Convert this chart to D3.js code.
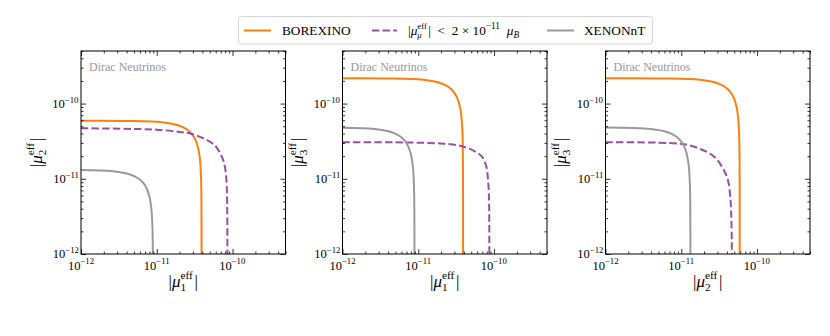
<!DOCTYPE html>
<html>
<head>
<meta charset="utf-8">
<script src="https://cdn.jsdelivr.net/npm/d3@7"></script>
<style>
  body { margin: 0; background: #fff; }
  svg text { white-space: pre; }
</style>
</head>
<body>
<svg id="chart" width="830" height="336" font-family="'Liberation Serif', 'DejaVu Serif', serif"></svg>
<script>
// axis range and labelled decades (same for every panel)
const axisDomain = [1e-12, 5e-10];
const majorTicks = [1e-12, 1e-11, 1e-10];
const tickExponents = ['\u221212', '\u221211', '\u221210'];

// which |mu_i^eff| goes on x / y in each panel
const panelX = ['1', '1', '2'];
const panelY = ['2', '3', '3'];

const seriesColors = ['#ff7f0e', '#984ea3', '#999999'];

// BOREXINO bound [x, y]
const borexino12 = [[1e-12, 5.9e-11], [3.9e-12, 5.87e-11], [1.17e-11, 5.63e-11], [1.95e-11, 5.11e-11], [2.54e-11, 4.48e-11], [2.93e-11, 3.9e-11], [3.24e-11, 3.29e-11], [3.47e-11, 2.69e-11], [3.65e-11, 2.09e-11], [3.76e-11, 1.55e-11], [3.84e-11, 1.02e-11], [3.88e-11, 5.9e-12], [3.898e-11, 1.86e-12], [3.9e-11, 5e-13]];
const borexino13 = [[1e-12, 2.17e-10], [3.9e-12, 2.16e-10], [1.17e-11, 2.07e-10], [1.95e-11, 1.88e-10], [2.54e-11, 1.65e-10], [2.93e-11, 1.43e-10], [3.24e-11, 1.21e-10], [3.47e-11, 9.9e-11], [3.65e-11, 7.7e-11], [3.76e-11, 5.7e-11], [3.84e-11, 3.75e-11], [3.88e-11, 2.17e-11], [3.898e-11, 6.9e-12], [3.8998e-11, 2.2e-12], [3.9e-11, 5e-13]];
const borexino23 = [[1e-12, 2.17e-10], [5.9e-12, 2.16e-10], [1.77e-11, 2.07e-10], [2.95e-11, 1.88e-10], [3.84e-11, 1.65e-10], [4.43e-11, 1.43e-10], [4.9e-11, 1.21e-10], [5.25e-11, 9.9e-11], [5.52e-11, 7.7e-11], [5.69e-11, 5.7e-11], [5.81e-11, 3.75e-11], [5.87e-11, 2.17e-11], [5.897e-11, 6.9e-12], [5.8997e-11, 2.2e-12], [5.9e-11, 5e-13]];

// |mu_mu^eff| < 2e-11 mu_B
const muon12 = [[1e-12, 4.7e-11], [5e-12, 4.6e-11], [1e-11, 4.5e-11], [2e-11, 4.2e-11], [2.9e-11, 3.95e-11], [4.4e-11, 3.35e-11], [5.9e-11, 2.75e-11], [7e-11, 2.1e-11], [7.7e-11, 1.65e-11], [8.15e-11, 1.2e-11], [8.4e-11, 7.5e-12], [8.52e-11, 3.5e-12], [8.56e-11, 5e-13]];
const muon13 = [[1e-12, 3.06e-11], [5e-12, 3.05e-11], [1e-11, 3.02e-11], [1.95e-11, 2.95e-11], [3.24e-11, 2.8e-11], [3.96e-11, 2.67e-11], [4.8e-11, 2.5e-11], [5.66e-11, 2.3e-11], [6.94e-11, 1.97e-11], [7.91e-11, 1.45e-11], [8.33e-11, 9.6e-12], [8.59e-11, 5.2e-12], [8.65e-11, 5e-13]];
const muon23 = [[1e-12, 3.06e-11], [5e-12, 3.02e-11], [1.02e-11, 2.9e-11], [1.35e-11, 2.75e-11], [1.69e-11, 2.54e-11], [2.1e-11, 2.32e-11], [2.54e-11, 2.07e-11], [3e-11, 1.78e-11], [3.44e-11, 1.45e-11], [3.8e-11, 1.2e-11], [4.13e-11, 9.6e-12], [4.43e-11, 5.8e-12], [4.6e-11, 2.5e-12], [4.67e-11, 5e-13]];

// XENONnT bound
const xenon12 = [[1e-12, 1.31e-11], [2.67e-12, 1.26e-11], [4.45e-12, 1.14e-11], [5.79e-12, 1e-11], [6.68e-12, 8.73e-12], [7.39e-12, 7.37e-12], [7.92e-12, 6.02e-12], [8.32e-12, 4.69e-12], [8.59e-12, 3.46e-12], [8.77e-12, 2.28e-12], [8.86e-12, 1.32e-12], [8.9e-12, 5e-13]];
const xenon13 = [[1e-12, 4.77e-11], [2.67e-12, 4.58e-11], [4.45e-12, 4.16e-11], [5.79e-12, 3.65e-11], [6.68e-12, 3.17e-11], [7.39e-12, 2.68e-11], [7.92e-12, 2.19e-11], [8.32e-12, 1.7e-11], [8.59e-12, 1.26e-11], [8.77e-12, 8.3e-12], [8.86e-12, 4.8e-12], [8.896e-12, 1.52e-12], [8.9e-12, 5e-13]];
const xenon23 = [[1e-12, 4.79e-11], [3.96e-12, 4.58e-11], [6.6e-12, 4.16e-11], [8.58e-12, 3.65e-11], [9.9e-12, 3.17e-11], [1.096e-11, 2.68e-11], [1.175e-11, 2.19e-11], [1.234e-11, 1.7e-11], [1.274e-11, 1.26e-11], [1.3e-11, 8.3e-12], [1.313e-11, 4.8e-12], [1.319e-11, 1.52e-12], [1.32e-11, 5e-13]];

const panelSeries = [
  [borexino12, muon12, xenon12],
  [borexino13, muon13, xenon13],
  [borexino23, muon23, xenon23],
];

const PANEL_LEFT = [81, 342.5, 605.5];
const PANEL_TOP = 51;
const PANEL_W = 204.5;
const PANEL_H = 203;
const TITLE_SIZE = 17;

let svg = d3.select('#chart');

/**
 * |mu_sub^eff| as one text element, sub and sup stacked like LaTeX
 */
function effLabel(parent, sub, size, subItalic) {
  let small = size * 0.66;
  let t = parent.append('text').attr('font-size', size).attr('fill', '#000');
  t.append('tspan').text('|');
  t.append('tspan').attr('font-style', 'italic').text('\u03bc');
  let sup = t.append('tspan').attr('font-size', small).attr('dy', -size * 0.44).text('eff');
  let sb = t.append('tspan').attr('font-size', small).attr('dy', size * 0.7).text(sub);
  if (subItalic) sb.attr('font-style', 'italic');
  let supLen = sup.node().getComputedTextLength();
  let subLen = sb.node().getComputedTextLength();
  sb.attr('dx', -supLen);
  t.append('tspan').attr('dy', -size * 0.26).attr('dx', Math.max(supLen - subLen, 0) + size * 0.1).text('|');
  return t;
}

function centerText(t) {
  let bb = t.node().getBBox();
  t.attr('transform', `translate(${-bb.x - bb.width / 2},${-bb.y - bb.height / 2})`);
}

function powLabel(parent, exp, size) {
  let t = parent.append('text').attr('font-size', size).attr('fill', '#000');
  t.append('tspan').text('10');
  t.append('tspan').attr('font-size', size * 0.7).attr('dy', -size * 0.42).text(exp);
  return t;
}

let x = d3.scaleLog().domain(axisDomain).range([0, PANEL_W]);
let y = d3.scaleLog().domain(axisDomain).range([PANEL_H, 0]);
let minorTicks = x.ticks().filter(v => !majorTicks.some(m => Math.abs(v - m) / m < 1e-6));

let line = d3.line()
  .x(d => x(d[0]))
  .y(d => y(d[1]))
  .curve(d3.curveCatmullRom.alpha(0.5));

function drawTicks(g, axisFn, scale, values, size) {
  g.call(axisFn(scale).tickValues(values).tickSize(size).tickSizeOuter(0).tickFormat(''))
    .call(a => a.select('.domain').remove())
    .call(a => a.selectAll('text').remove())
    .call(a => a.selectAll('line').attr('stroke', '#000').attr('stroke-width', 0.8));
}

for (let p = 0; p < 3; p++) {
  let g = svg.append('g').attr('transform', `translate(${PANEL_LEFT[p]},${PANEL_TOP})`);

  g.append('clipPath').attr('id', 'clip' + p)
    .append('rect').attr('width', PANEL_W).attr('height', PANEL_H);

  let curves = g.append('g').attr('clip-path', `url(#clip${p})`);
  panelSeries[p].forEach((pts, i) => {
    curves.append('path')
      .attr('d', line(pts))
      .attr('fill', 'none')
      .attr('stroke', seriesColors[i])
      .attr('stroke-width', 2)
      .attr('stroke-dasharray', i === 1 ? '7.4,3.2' : null);
  });

  // ticks inside, on all four sides
  for (let [fn, tx, ty, scale] of [
    [d3.axisBottom, 0, PANEL_H, x],
    [d3.axisTop, 0, 0, x],
    [d3.axisLeft, 0, 0, y],
    [d3.axisRight, PANEL_W, 0, y],
  ]) {
    let a = g.append('g').attr('transform', `translate(${tx},${ty})`);
    drawTicks(a.append('g'), fn, scale, majorTicks, -5);
    drawTicks(a.append('g'), fn, scale, minorTicks, -2.5);
  }

  g.append('rect')
    .attr('width', PANEL_W).attr('height', PANEL_H)
    .attr('fill', 'none').attr('stroke', '#000').attr('stroke-width', 1);

  // tick labels
  majorTicks.forEach((v, i) => {
    let tx = powLabel(g, tickExponents[i], 12.5);
    let bb = tx.node().getBBox();
    tx.attr('transform', `translate(${x(v) - bb.width / 2},${PANEL_H + 15.5})`);

    let ty = powLabel(g, tickExponents[i], 12.5);
    let bb2 = ty.node().getBBox();
    ty.attr('transform', `translate(${-2 - bb2.width},${y(v) + 4.3})`);
  });

  g.append('text')
    .attr('x', 8).attr('y', 20)
    .attr('font-size', 12)
    .attr('fill', '#999')
    .text('Dirac Neutrinos');

  let xt = g.append('g').attr('transform', `translate(${PANEL_W / 2},${PANEL_H + 27})`);
  centerText(effLabel(xt, panelX[p], TITLE_SIZE));

  let yt = g.append('g').attr('transform', `translate(-45,${PANEL_H / 2}) rotate(-90)`);
  centerText(effLabel(yt, panelY[p], TITLE_SIZE));
}

// legend
let legend = svg.append('g');
legend.append('rect')
  .attr('x', 238.5).attr('y', 16.5).attr('width', 414).attr('height', 27.5)
  .attr('rx', 3)
  .attr('fill', '#fff').attr('stroke', '#d5d5d5').attr('stroke-width', 1);

let legendLines = [[244, 271], [372, 397], [547, 574]];
legendLines.forEach(([a, b], i) => {
  legend.append('line')
    .attr('x1', a).attr('x2', b).attr('y1', 30.5).attr('y2', 30.5)
    .attr('stroke', seriesColors[i]).attr('stroke-width', 2)
    .attr('stroke-dasharray', i === 1 ? '7.4,3.2' : null);
});

legend.append('text').attr('x', 282).attr('y', 35).attr('font-size', 13.3).text('BOREXINO');
legend.append('text').attr('x', 584).attr('y', 35).attr('font-size', 13.3).text('XENONnT');

let lg = legend.append('g').attr('transform', 'translate(408,35)');
let s = 13.3;
let lt = effLabel(lg, '\u03bc', s, true);
lt.append('tspan').text('  <  2 \u00d7 10');
lt.append('tspan').attr('font-size', s * 0.7).attr('dy', -s * 0.42).text('\u221211');
lt.append('tspan').attr('dy', s * 0.42).text('  ');
lt.append('tspan').attr('font-style', 'italic').text('\u03bc');
lt.append('tspan').attr('font-size', s * 0.7).attr('font-style', 'italic').attr('dy', s * 0.25).text('B');
</script>
</body>
</html>
